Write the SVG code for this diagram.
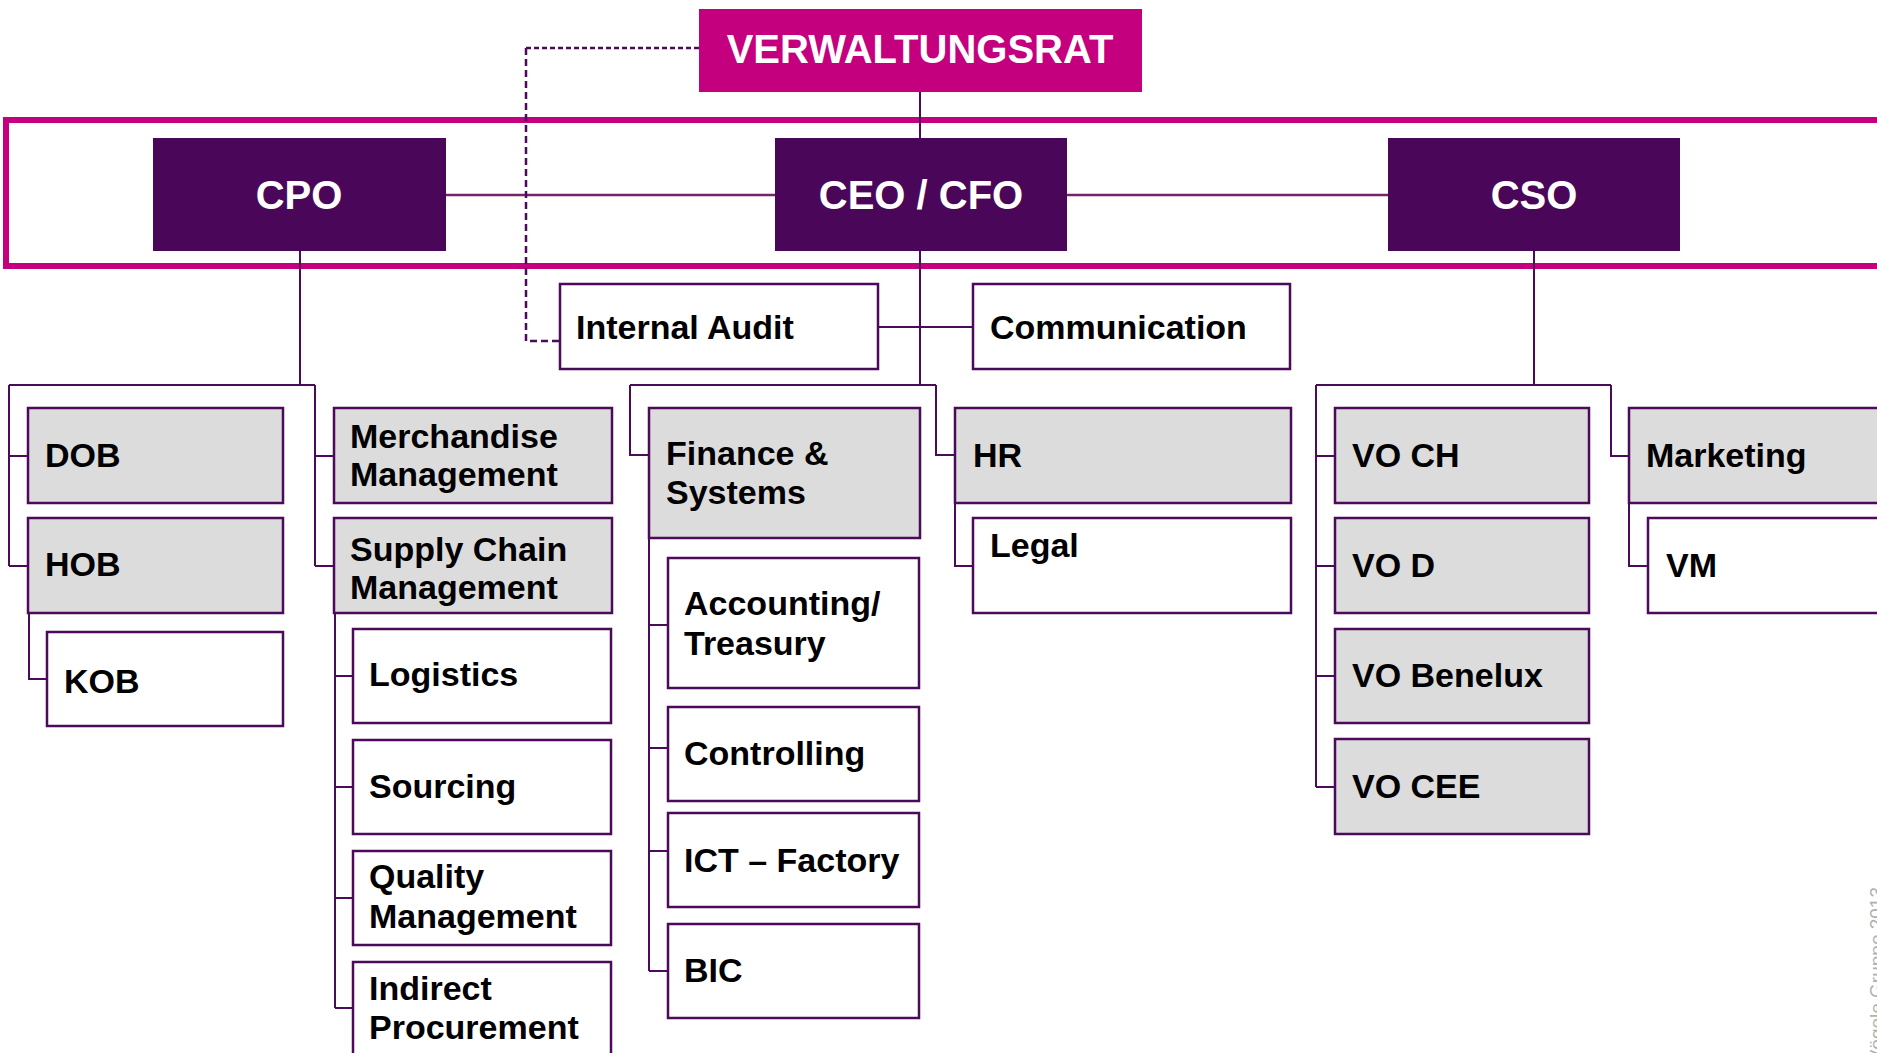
<svg xmlns="http://www.w3.org/2000/svg" width="1877" height="1053" viewBox="0 0 1877 1053">
<style>
.box{fill:#fff;stroke:#4B0A5A;stroke-width:2.5}
.gray{fill:#DCDCDC;stroke:#4B0A5A;stroke-width:2.5}
.head{fill:#4A0759}
.t{font-family:"Liberation Sans",Arial,sans-serif;font-weight:bold;font-size:34px;fill:#000}
.h{font-family:"Liberation Sans",Arial,sans-serif;font-weight:bold;font-size:40px;fill:#fff;text-anchor:middle}
.c{fill:none;stroke:#4B0A5A;stroke-width:2}
.cl{fill:none;stroke:#742468;stroke-width:2.5}
.d{fill:none;stroke:#4B0A5A;stroke-width:2.5}
</style>
<rect width="1877" height="1053" fill="#fff"/>
<rect x="6" y="120" width="1900" height="146" fill="none" stroke="#C5007F" stroke-width="6"/>
<g id="connectors">
<path class="c" d="M920 92V138"/>
<path class="cl" d="M446 195H775M1067 195H1388"/>
<path class="d" d="M699 48H526" stroke-dasharray="5 3"/>
<path class="d" d="M526 48V341H560" stroke-dasharray="7 4"/>
<path class="c" d="M300 251V385M9 385H315M9 385V566M9 456H28M9 566H28M315 385V566M315 456H334M315 566H334"/>
<path class="c" d="M29 613V679H47"/>
<path class="c" d="M335 613V1008M335 676H353M335 787H353M335 898H353M335 1008H353"/>
<path class="c" d="M920 251V385M878 327H973M630 385H936M630 385V455H649M936 385V455H955"/>
<path class="c" d="M649 538V971M649 625H668M649 748H668M649 851H668M649 971H668"/>
<path class="c" d="M955 503V566H973"/>
<path class="c" d="M1534 251V385M1316 385H1611M1316 385V787M1316 456H1335M1316 566H1335M1316 676H1335M1316 787H1335M1611 385V456H1629"/>
<path class="c" d="M1629 503V566H1648"/>
</g>
<g id="verwaltungsrat"><rect x="699" y="9" width="443" height="83" fill="#C5007F"/><text class="h" x="920" y="63">VERWALTUNGSRAT</text></g>
<g id="cpo"><rect class="head" x="153" y="138" width="293" height="113"/><text class="h" x="299" y="209">CPO</text></g>
<g id="ceo"><rect class="head" x="775" y="138" width="292" height="113"/><text class="h" x="921" y="209">CEO / CFO</text></g>
<g id="cso"><rect class="head" x="1388" y="138" width="292" height="113"/><text class="h" x="1534" y="209">CSO</text></g>
<g id="internal-audit"><rect class="box" x="560" y="284" width="318" height="85"/><text class="t" x="576" y="339">Internal Audit</text></g>
<g id="communication"><rect class="box" x="973" y="284" width="317" height="85"/><text class="t" x="990" y="339">Communication</text></g>
<g id="dob"><rect class="gray" x="28" y="408" width="255" height="95"/><text class="t" x="45" y="467">DOB</text></g>
<g id="hob"><rect class="gray" x="28" y="518" width="255" height="95"/><text class="t" x="45" y="576">HOB</text></g>
<g id="kob"><rect class="box" x="47" y="632" width="236" height="94"/><text class="t" x="64" y="693">KOB</text></g>
<g id="merchandise"><rect class="gray" x="334" y="408" width="278" height="95"/><text class="t" x="350" y="448">Merchandise</text><text class="t" x="350" y="486">Management</text></g>
<g id="supply-chain"><rect class="gray" x="334" y="518" width="278" height="95"/><text class="t" x="350" y="561">Supply Chain</text><text class="t" x="350" y="599">Management</text></g>
<g id="logistics"><rect class="box" x="353" y="629" width="258" height="94"/><text class="t" x="369" y="686">Logistics</text></g>
<g id="sourcing"><rect class="box" x="353" y="740" width="258" height="94"/><text class="t" x="369" y="798">Sourcing</text></g>
<g id="quality"><rect class="box" x="353" y="851" width="258" height="94"/><text class="t" x="369" y="888">Quality</text><text class="t" x="369" y="928">Management</text></g>
<g id="indirect"><rect class="box" x="353" y="962" width="258" height="110"/><text class="t" x="369" y="1000">Indirect</text><text class="t" x="369" y="1039">Procurement</text></g>
<g id="finance"><rect class="gray" x="649" y="408" width="271" height="130"/><text class="t" x="666" y="465">Finance &amp;</text><text class="t" x="666" y="504">Systems</text></g>
<g id="accounting"><rect class="box" x="668" y="558" width="251" height="130"/><text class="t" x="684" y="615">Accounting/</text><text class="t" x="684" y="655">Treasury</text></g>
<g id="controlling"><rect class="box" x="668" y="707" width="251" height="94"/><text class="t" x="684" y="765">Controlling</text></g>
<g id="ict"><rect class="box" x="668" y="813" width="251" height="94"/><text class="t" x="684" y="872">ICT – Factory</text></g>
<g id="bic"><rect class="box" x="668" y="924" width="251" height="94"/><text class="t" x="684" y="982">BIC</text></g>
<g id="hr"><rect class="gray" x="955" y="408" width="336" height="95"/><text class="t" x="973" y="467">HR</text></g>
<g id="legal"><rect class="box" x="973" y="518" width="318" height="95"/><text class="t" x="990" y="557">Legal</text></g>
<g id="vo-ch"><rect class="gray" x="1335" y="408" width="254" height="95"/><text class="t" x="1352" y="467">VO CH</text></g>
<g id="vo-d"><rect class="gray" x="1335" y="518" width="254" height="95"/><text class="t" x="1352" y="577">VO D</text></g>
<g id="vo-benelux"><rect class="gray" x="1335" y="629" width="254" height="94"/><text class="t" x="1352" y="687">VO Benelux</text></g>
<g id="vo-cee"><rect class="gray" x="1335" y="739" width="254" height="95"/><text class="t" x="1352" y="798">VO CEE</text></g>
<g id="marketing"><rect class="gray" x="1629" y="408" width="270" height="95"/><text class="t" x="1646" y="467">Marketing</text></g>
<g id="vm"><rect class="box" x="1648" y="518" width="260" height="95"/><text class="t" x="1666" y="577">VM</text></g>
<text x="0" y="0" transform="translate(1883,887) rotate(-90)" font-family="Liberation Sans,Arial,sans-serif" font-size="19" fill="#B0B0B0" text-anchor="end">© Charles Vögele Gruppe 2013</text>
</svg>
